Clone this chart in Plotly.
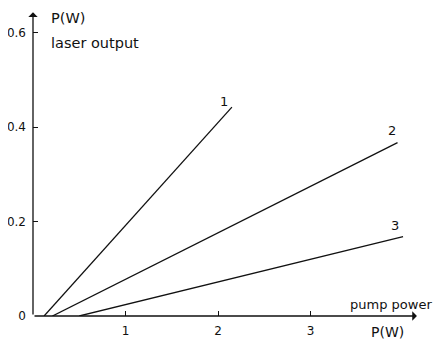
import plotly.graph_objects as go

# Data (pump power P in W, laser output P in W)
line_names = ["1", "2", "3"]
pump_start = [0.12, 0.21, 0.50]
pump_end = [2.15, 3.94, 4.00]
out_start = [0.0, 0.0, 0.0]
out_end = [0.442, 0.367, 0.168]

x_ticks = [1, 2, 3]
x_ticklabels = ["1", "2", "3"]
y_ticks = [0, 0.2, 0.4, 0.6]
y_ticklabels = ["0", "0.2", "0.4", "0.6"]

FONT = "DejaVu Sans"
INK = "#111111"

fig = go.Figure()
for name, x0, x1, y0, y1 in zip(line_names, pump_start, pump_end, out_start, out_end):
    fig.add_trace(go.Scatter(x=[x0, x1], y=[y0, y1], mode="lines",
                             line=dict(color=INK, width=1.3), name=name,
                             showlegend=False, hoverinfo="skip"))

annotations = []
# axis arrows
annotations.append(dict(x=4.15, y=0, ax=0, ay=0, xref="x", yref="y", axref="x", ayref="y",
                        showarrow=True, arrowhead=1, arrowsize=1.2, arrowwidth=1.3,
                        arrowcolor=INK, standoff=0, startstandoff=0, text=""))
annotations.append(dict(x=0, y=0.643, ax=0, ay=0, xref="x", yref="y", axref="x", ayref="y",
                        showarrow=True, arrowhead=1, arrowsize=1.2, arrowwidth=1.3,
                        arrowcolor=INK, standoff=0, startstandoff=0, text=""))

# line labels
label_pos = [(2.06, 0.455), (3.875, 0.392), (3.916, 0.191)]
for name, (lx, ly) in zip(line_names, label_pos):
    annotations.append(dict(x=lx, y=ly, xref="x", yref="y", text=name, showarrow=False,
                            font=dict(family=FONT, size=13, color=INK)))

# axis titles
annotations.append(dict(x=0.178, y=0.631, xref="x", yref="y", text="P(W)", showarrow=False,
                        xanchor="left", font=dict(family=FONT, size=14.5, color=INK)))
annotations.append(dict(x=0.178, y=0.578, xref="x", yref="y", text="laser output", showarrow=False,
                        xanchor="left", font=dict(family=FONT, size=14.5, color=INK)))
annotations.append(dict(x=3.40, y=0.024, xref="x", yref="y", text="pump power", showarrow=False,
                        xanchor="left", font=dict(family=FONT, size=13, color=INK)))
annotations.append(dict(x=3.83, y=-0.052, xref="x", yref="paper", text="P(W)", showarrow=False,
                        yanchor="middle", font=dict(family=FONT, size=14, color=INK)))

# page body has an 8px margin, so the figure is slightly smaller and shifted
fig.update_layout(
    width=433, height=332,
    margin=dict(l=25, r=0, t=0, b=24),
    paper_bgcolor="white", plot_bgcolor="white",
    annotations=annotations,
    xaxis=dict(range=[0, 4.41], tickvals=x_ticks, ticktext=x_ticklabels,
               ticks="inside", ticklen=5, tickcolor=INK, tickwidth=1.2,
               showgrid=False, zeroline=False, showline=False,
               tickfont=dict(family=FONT, size=12, color=INK), ticklabelstandoff=6),
    yaxis=dict(range=[0, 0.6519], tickvals=y_ticks, ticktext=y_ticklabels,
               ticks="inside", ticklen=5, tickcolor=INK, tickwidth=1.2,
               showgrid=False, zeroline=False, showline=False,
               tickfont=dict(family=FONT, size=12, color=INK), ticklabelstandoff=6),
)

fig.write_html("out.html")
